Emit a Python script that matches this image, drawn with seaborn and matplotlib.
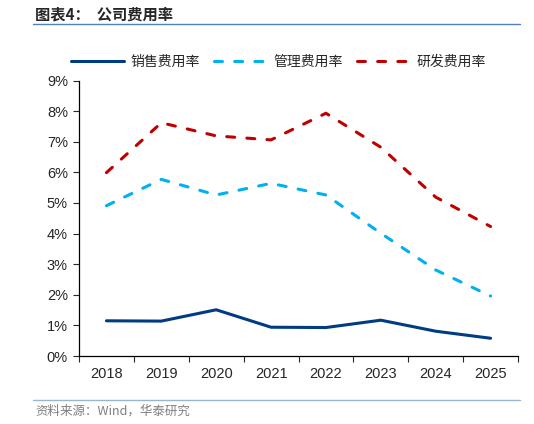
import pandas as pd
import seaborn as sns
import matplotlib.pyplot as plt
from matplotlib.ticker import FixedLocator, PercentFormatter

years = ['2018', '2019', '2020', '2021', '2022', '2023', '2024', '2025']
sales_rate = [1.15, 1.14, 1.51, 0.94, 0.93, 1.17, 0.81, 0.58]
admin_rate = [4.91, 5.77, 5.26, 5.64, 5.26, 4.01, 2.81, 1.96]
rd_rate = [5.99, 7.62, 7.19, 7.06, 7.93, 6.82, 5.19, 4.23]
series_names = ['销售费用率', '管理费用率', '研发费用率']

sns.set_style('ticks')
plt.rcParams['font.family'] = ['Liberation Sans', 'Noto Sans CJK SC', 'DejaVu Sans']

df = pd.DataFrame({'year': years, 'x': range(len(years)),
                   series_names[0]: sales_rate,
                   series_names[1]: admin_rate,
                   series_names[2]: rd_rate})
long_df = df.melt(id_vars=['year', 'x'], var_name='series', value_name='rate')

fig = plt.figure(figsize=(5.34, 4.24), dpi=100)
ax = fig.add_axes([79 / 534, 1 - 356 / 424, 439 / 534, 275.5 / 424])

lw = 2.2
dash_pat = (2.6, 4.0)
palette = {series_names[0]: '#003C82', series_names[1]: '#00B0F0', series_names[2]: '#C00000'}
dashes = {series_names[0]: '', series_names[1]: dash_pat, series_names[2]: dash_pat}
sns.lineplot(data=long_df, x='x', y='rate', hue='series', style='series',
             palette=palette, dashes=dashes, linewidth=lw, ax=ax, legend=False)
for line in ax.lines:
    line.set_dash_capstyle('round')
    line.set_solid_capstyle('round')

ax.set_xlim(-0.5, len(years) - 0.5)
ax.set_ylim(0, 9)
ax.set_yticks(range(0, 10))
ax.yaxis.set_major_formatter(PercentFormatter(decimals=0))
ax.set_xticks(range(len(years)))
ax.set_xticklabels(years)
ax.xaxis.set_minor_locator(FixedLocator([i - 0.5 for i in range(len(years) + 1)]))
ax.tick_params(axis='x', which='major', length=0, pad=8, labelsize=10.5)
ax.tick_params(axis='x', which='minor', length=4, width=0.8, direction='out')
ax.tick_params(axis='y', length=4, width=0.8, labelsize=10.5, pad=4)
ax.set_xlabel('')
ax.set_ylabel('')
for side in ['top', 'right']:
    ax.spines[side].set_visible(False)
for side in ['left', 'bottom']:
    ax.spines[side].set_linewidth(0.9)
    ax.spines[side].set_color('black')

handles = []
for n in series_names:
    if n == series_names[0]:
        h = plt.Line2D([], [], color=palette[n], lw=lw)
    else:
        h = plt.Line2D([], [], color=palette[n], lw=lw, dashes=dash_pat,
                       dash_capstyle='round')
    handles.append(h)
fig.legend(handles, series_names, loc='center', bbox_to_anchor=(278.5 / 534, 1 - 62 / 424),
           ncol=3, frameon=False, handlelength=3.8, columnspacing=1.0,
           handletextpad=0.5, prop={'family': ['Noto Sans CJK SC', 'DejaVu Sans'], 'size': 10})

fig.text(35 / 534, 1 - 14 / 424, '图表4：  公司费用率', fontsize=11, fontweight='bold',
         va='center', ha='left', family=['Noto Sans CJK SC', 'DejaVu Sans'])
fig.add_artist(plt.Line2D([33 / 534, 520 / 534], [1 - 24 / 424, 1 - 24 / 424],
                          color='#4F81BD', lw=1.0))
fig.add_artist(plt.Line2D([33 / 534, 520 / 534], [1 - 400 / 424, 1 - 400 / 424],
                          color='#9BB5D0', lw=1.0))
fig.text(35 / 534, 1 - 411 / 424, '资料来源：Wind，华泰研究', fontsize=9, color='#7F7F7F',
         va='center', ha='left', family=['Noto Sans CJK SC', 'DejaVu Sans'])

fig.savefig('out.png', dpi=100)
